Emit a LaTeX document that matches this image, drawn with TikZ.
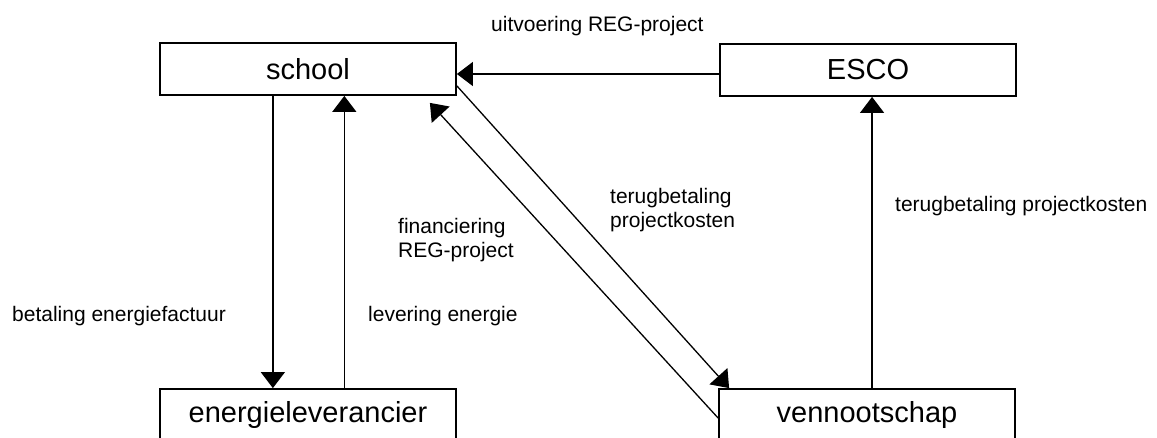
\documentclass[tikz,border=0pt]{standalone}
\usepackage{fontspec}
\setmainfont{Liberation Sans}
\usetikzlibrary{arrows.meta,calc}
\begin{document}
\begin{tikzpicture}[x=1pt,y=-1pt,
  box/.style={draw,line width=1.8pt,minimum width=296pt,minimum height=52pt,inner sep=0pt,font=\fontsize{29}{34}\selectfont},
  lbl/.style={inner sep=0pt,font=\fontsize{21}{24}\selectfont,anchor=base west},
  arr/.style={line width=1.3pt,-{Triangle[length=16pt,width=24pt]}}]
\useasboundingbox (0,0) rectangle (1157,437);
\clip (0,0) rectangle (1157,437);
\node[box] (school) at (308,69) {school};
\node[box] (esco) at (868,70) {ESCO};
\node[box] (energ) at (308,415) {energieleverancier};
\node[box] (venn) at (867,415) {vennootschap};
% connectors
\draw[arr] ([yshift=-4pt]esco.west) -- ([yshift=-4pt]esco.west -| school.east);
\draw[arr] ($(school.south west)!0.382!(school.south east)$) -- ($(energ.north west)!0.382!(energ.north east)$);
\draw[arr] ($(energ.north west)!0.622!(energ.north east)$) -- ($(school.south west)!0.622!(school.south east)$);
\draw[arr] ($(venn.north west)!0.517!(venn.north east)$) coordinate (vt) -- (vt |- esco.south);
\draw[arr] ([yshift=10pt]school.south east) -- ([xshift=11pt]venn.north west);
\draw[arr] ([yshift=-3pt]venn.west) -- ([xshift=-27pt,yshift=-7pt]school.south east);
% labels
\node[lbl] (l1) at (491,31) {uitvoering REG-project};
\node[lbl] (l2) at (12,321) {betaling energiefactuur};
\node[lbl] (l3) at (368,321) {levering energie};
\node[lbl] (l4) at (398,233) {\begin{tabular}[t]{@{}l@{}}financiering\\REG-project\end{tabular}};
\node[lbl] (l5) at (610,203) {\begin{tabular}[t]{@{}l@{}}terugbetaling\\projectkosten\end{tabular}};
\node[lbl] (l6) at (895,211) {terugbetaling projectkosten};
\end{tikzpicture}
\end{document}
